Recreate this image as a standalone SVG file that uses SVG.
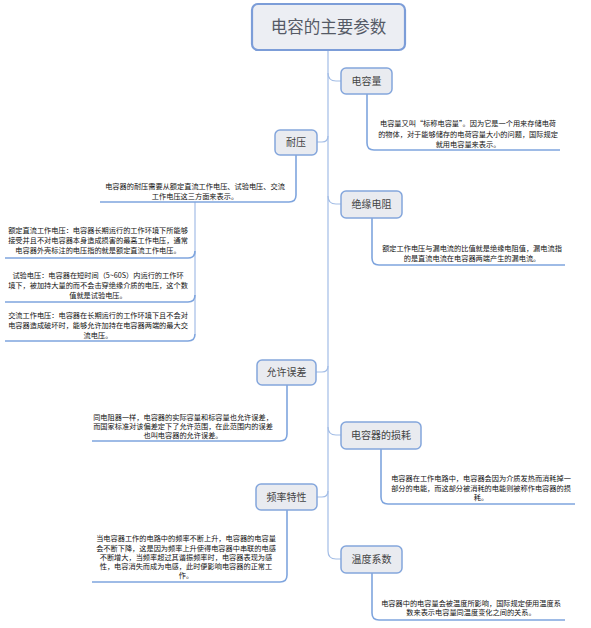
<svg xmlns="http://www.w3.org/2000/svg" width="591" height="628" viewBox="0 0 591 628">
<style>
.bg{fill:#ffffff}
.node rect{fill:#e9ebf0;stroke:#84a6dc;stroke-width:1.5}
.node text{font-family:"Noto Sans CJK SC","Liberation Sans",sans-serif;font-size:10px;fill:#444;text-anchor:middle}
.title rect{fill:#eceef3;stroke:#7c9dd8;stroke-width:2.2}
.title text{font-family:"Noto Sans CJK SC","Liberation Sans",sans-serif;font-size:16.5px;fill:#555a66;text-anchor:middle}
.desc text{font-family:"Noto Sans CJK SC","Liberation Sans",sans-serif;font-size:7.2px;fill:#111;text-anchor:middle}
.conn path{fill:none;stroke:#a3bde6;stroke-width:1.2}
.ul path{fill:none;stroke:#7fa5de;stroke-width:1.6}
</style>
<rect class="bg" x="0" y="0" width="591" height="628"/>
<g id="connectors" class="conn">
<path d="M328,50 L328,551 Q328,559 336,559 L341,559"/>
<path d="M328,73 Q328,81 336,81 L341,81"/>
<path d="M328,196 Q328,204 336,204 L341,204"/>
<path d="M328,427 Q328,435 336,435 L341,435"/>
<path d="M317,142 L322,142 Q328,142 328,136"/>
<path d="M316,372 L322,372 Q328,372 328,366"/>
<path d="M317,497 L322,497 Q328,497 328,491"/>
<path d="M195,202 L195,334"/>
</g>
<g id="underlines" class="ul">
<path d="M367,94 L367,143 Q367,150 374,150 L560,150"/>
<path d="M372,218 L372,258 Q372,265 379,265 L565,265"/>
<path d="M381,449 L381,497 Q381,504 388,504 L575,504"/>
<path d="M372,573 L372,613 Q372,620 379,620 L565,620"/>
<path d="M296,155 L296,195 Q296,202 289,202 L100,202"/>
<path d="M287,385 L287,434 Q287,441 280,441 L92,441"/>
<path d="M287,510 L287,575 Q287,582 280,582 L92,582"/>
<path d="M5,258 L188,258 Q195,258 195,251"/>
<path d="M5,302 L188,302 Q195,302 195,295"/>
<path d="M5,341 L188,341 Q195,341 195,334"/>
</g>
<g id="title" class="title"><rect x="252" y="4" width="153" height="46" rx="6"/><text x="328.5" y="33">电容的主要参数</text></g>
<g id="n-capacity" class="node"><rect x="341" y="68" width="51" height="26" rx="5"/><text x="366.5" y="85">电容量</text></g>
<g id="n-voltage" class="node"><rect x="275" y="130" width="42" height="25" rx="5"/><text x="296" y="146">耐压</text></g>
<g id="n-insulation" class="node"><rect x="341" y="191" width="61" height="27" rx="5"/><text x="371.5" y="208">绝缘电阻</text></g>
<g id="n-tolerance" class="node"><rect x="257" y="360" width="59" height="25" rx="5"/><text x="286.5" y="376">允许误差</text></g>
<g id="n-loss" class="node"><rect x="341" y="422" width="80" height="27" rx="5"/><text x="381" y="439">电容器的损耗</text></g>
<g id="n-frequency" class="node"><rect x="256" y="484" width="61" height="26" rx="5"/><text x="286.5" y="501">频率特性</text></g>
<g id="n-temp" class="node"><rect x="341" y="546" width="61" height="27" rx="5"/><text x="371.5" y="563">温度系数</text></g>
<g id="d-capacity" class="desc"><text x="468" y="126">电容量又叫“标称电容量”。因为它是一个用来存储电荷</text><text x="468" y="136.5">的物体，对于能够储存的电荷容量大小的问题，国际规定</text><text x="468" y="147">就用电容量来表示。</text></g>
<g id="d-voltage" class="desc"><text x="195" y="189">电容器的耐压需要从额定直流工作电压、试验电压、交流</text><text x="195" y="198.5">工作电压这三方面来表示。</text></g>
<g id="d-rated" class="desc"><text x="98" y="233">额定直流工作电压：电容器长期运行的工作环境下所能够</text><text x="98" y="243">接受并且不对电容器本身造成损害的最高工作电压，通常</text><text x="98" y="253">电容器外壳标注的电压指的就是额定直流工作电压。</text></g>
<g id="d-test" class="desc"><text x="98" y="278">试验电压：电容器在短时间（5~60S）内运行的工作环</text><text x="98" y="288">境下，被加持大量的而不会击穿绝缘介质的电压，这个数</text><text x="98" y="297.5">值就是试验电压。</text></g>
<g id="d-ac" class="desc"><text x="98" y="318">交流工作电压：电容器在长期运行的工作环境下且不会对</text><text x="98" y="328">电容器造成破坏时，能够允许加持在电容器两端的最大交</text><text x="98" y="337.5">流电压。</text></g>
<g id="d-insulation" class="desc"><text x="472" y="251">额定工作电压与漏电流的比值就是绝缘电阻值，漏电流指</text><text x="472" y="261">的是直流电流在电容器两端产生的漏电流。</text></g>
<g id="d-tolerance" class="desc"><text x="183" y="420">同电阻器一样，电容器的实际容量和标容量也允许误差，</text><text x="183" y="429">而国家标准对该偏差定下了允许范围，在此范围内的误差</text><text x="183" y="438">也叫电容器的允许误差。</text></g>
<g id="d-loss" class="desc"><text x="481" y="481">电容器在工作电路中，电容器会因为介质发热而消耗掉一</text><text x="481" y="491">部分的电能，而这部分被消耗的电能则被称作电容器的损</text><text x="481" y="500">耗。</text></g>
<g id="d-frequency" class="desc"><text x="186" y="541">当电容器工作的电路中的频率不断上升，电容器的电容量</text><text x="186" y="551">会不断下降，这是因为频率上升使得电容器中串联的电感</text><text x="186" y="560">不断增大，当频率超过其谐振频率时，电容器表现为感</text><text x="186" y="569">性，电容消失而成为电感，此时便影响电容器的正常工</text><text x="186" y="578">作。</text></g>
<g id="d-temp" class="desc"><text x="471" y="606">电容器中的电容量会被温度所影响，国际规定使用温度系</text><text x="471" y="615">数来表示电容量同温度变化之间的关系。</text></g>
</svg>
